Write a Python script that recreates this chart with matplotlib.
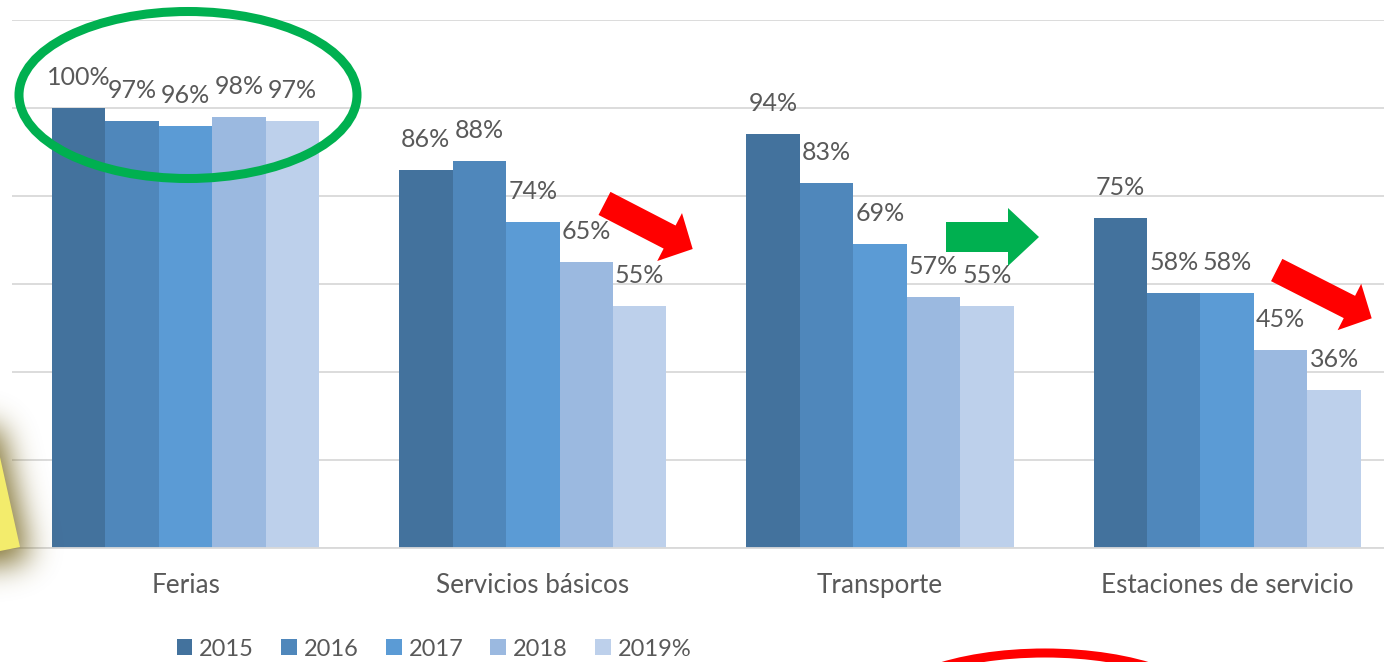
import numpy as np
import matplotlib
matplotlib.use("Agg")
import matplotlib.pyplot as plt
from matplotlib.patches import Ellipse, Polygon, Patch
from matplotlib.path import Path

# ---------------- data ----------------
categories = ["Ferias", "Servicios básicos", "Transporte", "Estaciones de servicio"]
series_names = ["2015", "2016", "2017", "2018", "2019%"]
v2015 = [100, 86, 94, 75]
v2016 = [97, 88, 83, 58]
v2017 = [96, 74, 69, 58]
v2018 = [98, 65, 57, 45]
v2019 = [97, 55, 55, 36]
series_values = [v2015, v2016, v2017, v2018, v2019]
colors = ["#43729d", "#4f87bb", "#5b9bd5", "#9bb9e0", "#bdd0eb"]
yticks = [0, 20, 40, 60, 80, 100, 120]

W, H = 1384, 662
FONT = ["Lato", "DejaVu Sans"]
TXT = "#595959"
plt.rcParams["font.family"] = FONT

fig = plt.figure(figsize=(W / 100, H / 100), dpi=100)
fig.patch.set_facecolor("white")

ax_left, ax_right, ax_top, ax_bot = 12, 1384, 20, 548
ax = fig.add_axes([ax_left / W, 1 - ax_bot / H, (ax_right - ax_left) / W, (ax_bot - ax_top) / H])
ax.set_facecolor("none")

cat_px = 347.2
ax.set_xlim(-0.5, -0.5 + (ax_right - ax_left) / cat_px)
ax.set_ylim(0, 120)

bw = 0.154
x = np.arange(len(categories))
bars = []
for j, (vals, c) in enumerate(zip(series_values, colors)):
    pos = x + (j - 2) * bw
    b = ax.bar(pos, vals, width=bw, color=c, edgecolor="none", zorder=2)
    bars.append(b)
    for px_, v in zip(pos, vals):
        ax.annotate(f"{v}%", (px_, v), xytext=(0, 22), textcoords="offset points",
                    ha="center", va="center", fontsize=18, color=TXT, zorder=4)

ax.set_yticks(yticks)
ax.yaxis.grid(True, color="#d9d9d9", linewidth=1.3, zorder=0)
ax.set_axisbelow(True)
ax.tick_params(axis="y", length=0, labelleft=False)
ax.set_xticks(x)
ax.set_xticklabels(categories, fontsize=18.8, color=TXT)
ax.tick_params(axis="x", length=0, pad=18)
for s in ["top", "right", "left"]:
    ax.spines[s].set_visible(False)
ax.spines["bottom"].set_color("#d9d9d9")
ax.spines["bottom"].set_linewidth(1.3)

# legend
handles = [Patch(facecolor=c, edgecolor="none") for c in colors]
fig.legend(handles, series_names, loc="center", bbox_to_anchor=(434 / W, 1 - 649 / H),
           ncol=5, frameon=False, fontsize=17, handlelength=0.66, handleheight=0.66,
           handletextpad=0.3, columnspacing=1.15, borderpad=0, labelcolor=TXT)

# ---------------- annotations (decorations) ----------------
def f(px, py):
    return (px / W, 1 - py / H)

def block_arrow(T, P, sw, hw, hl, color):
    T = np.array(T, float); P = np.array(P, float)
    d = (P - T) / np.linalg.norm(P - T)
    n = np.array([-d[1], d[0]])
    B = P - d * hl
    pts = [T + n * sw / 2, B + n * sw / 2, B + n * hw / 2, P, B - n * hw / 2, B - n * sw / 2, T - n * sw / 2]
    poly = Polygon([f(*p) for p in pts], closed=True, facecolor=color, edgecolor="none",
                   transform=fig.transFigure, zorder=10)
    fig.add_artist(poly)

block_arrow((604.5, 203.4), (692.7, 249), 26, 54, 26, "#ff0000")
block_arrow((946, 237), (1039, 237), 30, 58, 31, "#00b050")
block_arrow((1276.7, 270), (1371.7, 318.3), 25, 52, 25, "#ff0000")

fig.add_artist(Ellipse(f(188, 95), 338 / W, 167 / H, facecolor="none", edgecolor="#00b050",
                       linewidth=6.5, transform=fig.transFigure, zorder=10))
fig.add_artist(Ellipse(f(1045, 715), 330 / W, 124 / H, facecolor="none", edgecolor="#ff0000",
                       linewidth=6.5, transform=fig.transFigure, zorder=10))

# sticky note with soft shadow (raster in pixel space)
note_poly = [(20, 547), (-45, 255), (-300, 280), (-300, 600), (0, 551)]
y0, y1, x1 = 250, 662, 140
yy, xx = np.mgrid[y0:y1, 0:x1]
pts = np.column_stack([xx.ravel() + 0.5, yy.ravel() + 0.5])
shadow_poly = [(px + 10, py + 12) for px, py in note_poly]
mask = Path(shadow_poly).contains_points(pts).reshape(yy.shape).astype(float)
sig = 15
k = np.exp(-0.5 * (np.arange(-3 * sig, 3 * sig + 1) / sig) ** 2)
k /= k.sum()
pad = 3 * sig
m = np.pad(mask, pad, mode="edge")
m = np.apply_along_axis(lambda r: np.convolve(r, k, mode="same"), 0, m)
m = np.apply_along_axis(lambda r: np.convolve(r, k, mode="same"), 1, m)
m = m[pad:-pad, pad:-pad]
rgba = np.zeros(yy.shape + (4,))
rgba[..., 0] = 115 / 255
rgba[..., 1] = 98 / 255
rgba[..., 2] = 25 / 255
rgba[..., 3] = np.clip(m * 0.9, 0, 1)
fig.figimage(rgba, xo=0, yo=H - y1, origin="upper", zorder=8)
fig.add_artist(Polygon([f(*p) for p in note_poly], closed=True, facecolor="#f3ec6c",
                       edgecolor="none", transform=fig.transFigure, zorder=9))

fig.savefig("out.png", dpi=100, facecolor="white")
